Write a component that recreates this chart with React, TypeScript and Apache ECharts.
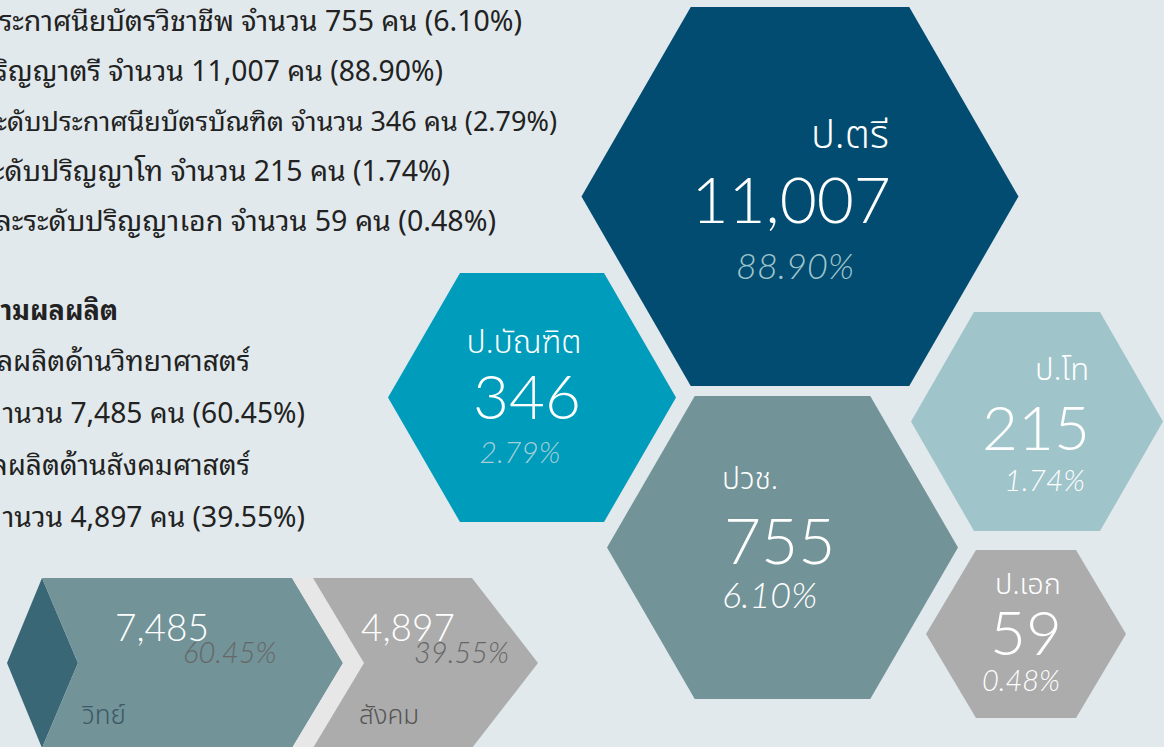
import React, { useEffect, useRef } from 'react';
import * as echarts from 'echarts';

// ---------- data ----------
const levels = ['ป.ตรี', 'ป.บัณฑิต', 'ปวช.', 'ป.โท', 'ป.เอก'];
const levelCounts = [11007, 346, 755, 215, 59];
const levelPercents = [88.9, 2.79, 6.1, 1.74, 0.48];
// order in which the left summary lists levels (indices into the arrays above)
const summaryOrder = [2, 0, 1, 3, 4];
const summaryPhrases = ['ระกาศนียบัตรวิชาชีพ', 'ริญญาตรี', 'ะดับประกาศนียบัตรบัณฑิต', 'ะดับปริญญาโท', 'ละระดับปริญญาเอก'];

const fields = ['วิทย์', 'สังคม'];
const fieldPhrases = ['ลผลิตด้านวิทยาศาสตร์', 'ลผลิตด้านสังคมศาสตร์'];
const fieldCounts = [7485, 4897];
const fieldPercents = [60.45, 39.55];
const outputHeading = 'ามผลผลิต';

// ---------- layout / style ----------
const W = 1164;
const H = 747;
const BG = '#e1e9ec';
const NUM_FONT = "Lato, 'Open Sans', sans-serif";
const TH_FONT = "'Noto Sans Thai', Loma, Garuda, Tahoma, sans-serif";
const TH_BODY_FONT = "'Noto Sans Thai Looped', Tahoma, Loma, 'Noto Sans Thai', sans-serif";

type HexLayout = {
  cx: number; cy: number; rx: number; ry: number; fill: string;
  labelX: number; labelY: number; labelAlign: string; labelSize: number;
  numX: number; numY: number; numAlign: string; numSize: number;
  pctX: number; pctY: number; pctAlign: string; pctSize: number; pctColor: string;
};

const hexLayout: HexLayout[] = [
  { cx: 800, cy: 196.5, rx: 218.5, ry: 189.5, fill: '#014c70',
    labelX: 889, labelY: 136, labelAlign: 'right', labelSize: 40,
    numX: 891, numY: 198.5, numAlign: 'right', numSize: 64,
    pctX: 795, pctY: 265, pctAlign: 'center', pctSize: 36, pctColor: '#9fc4ca' },
  { cx: 532, cy: 397.5, rx: 144, ry: 124.5, fill: '#009cbb',
    labelX: 524, labelY: 342.5, labelAlign: 'center', labelSize: 32,
    numX: 527, numY: 395, numAlign: 'center', numSize: 62,
    pctX: 520, pctY: 451, pctAlign: 'center', pctSize: 30, pctColor: '#a5d0d8' },
  { cx: 782.5, cy: 547.5, rx: 175.5, ry: 151.5, fill: '#729398',
    labelX: 722, labelY: 480, labelAlign: 'left', labelSize: 30,
    numX: 724, numY: 539, numAlign: 'left', numSize: 64,
    pctX: 722, pctY: 594, pctAlign: 'left', pctSize: 36, pctColor: '#ffffff' },
  { cx: 1037, cy: 421.5, rx: 126, ry: 109.5, fill: '#9fc4ca',
    labelX: 1089, labelY: 370, labelAlign: 'right', labelSize: 31,
    numX: 1090, numY: 425.5, numAlign: 'right', numSize: 62,
    pctX: 1085, pctY: 479, pctAlign: 'right', pctSize: 30, pctColor: '#ffffff' },
  { cx: 1026, cy: 634, rx: 100, ry: 84, fill: '#acacac',
    labelX: 1028, labelY: 585, labelAlign: 'center', labelSize: 29,
    numX: 1026, numY: 631, numAlign: 'center', numSize: 62,
    pctX: 1021, pctY: 679, pctAlign: 'center', pctSize: 29, pctColor: '#ffffff' },
];

// left summary text: right edge and font size of each line
const summaryRight = [522, 443, 557, 450, 496];
const summarySize = [28.5, 28.3, 27, 28.4, 28.6];

// chevrons: x0 = left edge, x1 = right top corner, tip = tip x, notch = left notch x
const chevTop = 578;
const chevMid = 663;
const chevBottom = 748;
const chevLayout = [
  { x0: 42, x1: 292, tip: 343, notch: 78, fill: '#729398',
    numX: 115, pctX: 183, nameX: 82, nameColor: '#3d5866' },
  { x0: 313, x1: 472, tip: 538, notch: 364, fill: '#acacac',
    numX: 361, pctX: 414, nameX: 359, nameColor: '#555555' },
];

const fmt = (n: number) => n.toLocaleString('en-US');
const fmtPct = (p: number) => p.toFixed(2) + '%';

export default function App() {
  const ref = useRef<HTMLDivElement>(null);

  useEffect(() => {
    document.body.style.margin = '0';
    document.body.style.background = BG;
    if (!ref.current) return;
    const chart = echarts.init(ref.current, null, { renderer: 'svg' });

    const hexData = levels.map((name, i) => ({ name, value: [levelCounts[i], levelPercents[i]] }));
    const chevData = fields.map((name, i) => ({ name, value: [fieldCounts[i], fieldPercents[i]] }));

    const summaryTexts: any[] = [];
    summaryOrder.forEach((li, k) => {
      summaryTexts.push({
        type: 'text',
        x: summaryRight[k],
        y: 18 + k * 50,
        style: {
          text: `${summaryPhrases[k]} จำนวน ${fmt(levelCounts[li])} คน (${fmtPct(levelPercents[li])})`,
          fill: '#222222',
          font: `${summarySize[k]}px ${TH_BODY_FONT}`,
          align: 'right',
          verticalAlign: 'middle',
        },
      });
    });
    summaryTexts.push({
      type: 'text', x: 118, y: 307,
      style: { text: outputHeading, fill: '#222222', font: `bold 27px ${TH_BODY_FONT}`, align: 'right', verticalAlign: 'middle' },
    });
    fields.forEach((_, i) => {
      summaryTexts.push({
        type: 'text', x: 250, y: 358 + i * 104,
        style: { text: fieldPhrases[i], fill: '#222222', font: `28.1px ${TH_BODY_FONT}`, align: 'right', verticalAlign: 'middle' },
      });
      summaryTexts.push({
        type: 'text', x: 305, y: 410 + i * 104,
        style: {
          text: `านวน ${fmt(fieldCounts[i])} คน (${fmtPct(fieldPercents[i])})`,
          fill: '#222222', font: `28.2px ${TH_BODY_FONT}`, align: 'right', verticalAlign: 'middle',
        },
      });
    });

    const option: any = {
      animation: false,
      backgroundColor: BG,
      grid: { left: 0, right: 0, top: 0, bottom: 0 },
      xAxis: { type: 'value', min: 0, max: W, show: false },
      yAxis: { type: 'value', min: 0, max: H, inverse: true, show: false },
      graphic: summaryTexts,
      series: [
        {
          type: 'custom',
          name: 'levels',
          clip: false,
          data: hexData,
          renderItem: (params: any, api: any) => {
            const i = params.dataIndex;
            const L = hexLayout[i];
            const c = (x: number, y: number) => api.coord([x, y]);
            const pts = [
              c(L.cx - L.rx, L.cy), c(L.cx - L.rx / 2, L.cy - L.ry), c(L.cx + L.rx / 2, L.cy - L.ry),
              c(L.cx + L.rx, L.cy), c(L.cx + L.rx / 2, L.cy + L.ry), c(L.cx - L.rx / 2, L.cy + L.ry),
            ];
            const lp = c(L.labelX, L.labelY);
            const np = c(L.numX, L.numY);
            const pp = c(L.pctX, L.pctY);
            return {
              type: 'group',
              children: [
                { type: 'polygon', shape: { points: pts }, style: { fill: L.fill } },
                { type: 'text', style: { text: levels[i], x: lp[0], y: lp[1], fill: '#ffffff',
                  font: `300 ${L.labelSize}px ${TH_FONT}`, align: L.labelAlign, verticalAlign: 'middle' } },
                { type: 'text', style: { text: fmt(api.value(0)), x: np[0], y: np[1], fill: '#ffffff',
                  font: `300 ${L.numSize}px ${NUM_FONT}`, align: L.numAlign, verticalAlign: 'middle' } },
                { type: 'text', style: { text: fmtPct(api.value(1)), x: pp[0], y: pp[1], fill: L.pctColor,
                  font: `italic 300 ${L.pctSize}px ${NUM_FONT}`, align: L.pctAlign, verticalAlign: 'middle' } },
              ],
            };
          },
        },
        {
          type: 'custom',
          name: 'fields',
          clip: false,
          data: chevData,
          renderItem: (params: any, api: any) => {
            const i = params.dataIndex;
            const L = chevLayout[i];
            const c = (x: number, y: number) => api.coord([x, y]);
            const children: any[] = [];
            if (i === 0) {
              children.push({ type: 'polygon', shape: { points: [
                c(L.x0, chevTop), c(L.notch, chevMid), c(L.x0, chevBottom), c(7, chevMid),
              ] }, style: { fill: '#3a6775' } });
            } else {
              const prev = chevLayout[i - 1];
              children.push({ type: 'polygon', shape: { points: [
                c(prev.x1, chevTop), c(L.x0, chevTop), c(L.notch, chevMid), c(L.x0, chevBottom),
                c(prev.x1, chevBottom), c(prev.tip, chevMid),
              ] }, style: { fill: '#e7e7e7' } });
            }
            children.push({ type: 'polygon', shape: { points: [
              c(L.x0, chevTop), c(L.x1, chevTop), c(L.tip, chevMid), c(L.x1, chevBottom),
              c(L.x0, chevBottom), c(L.notch, chevMid),
            ] }, style: { fill: L.fill } });
            const np = c(L.numX, 626.5);
            const pp = c(L.pctX, 651.5);
            const mp = c(L.nameX, 716);
            children.push({ type: 'text', style: { text: fmt(api.value(0)), x: np[0], y: np[1], fill: '#ffffff',
              font: `300 37px ${NUM_FONT}`, align: 'left', verticalAlign: 'middle' } });
            children.push({ type: 'text', style: { text: fmtPct(api.value(1)), x: pp[0], y: pp[1], fill: '#666666',
              font: `italic 300 29px ${NUM_FONT}`, align: 'left', verticalAlign: 'middle' } });
            children.push({ type: 'text', style: { text: fields[i], x: mp[0], y: mp[1], fill: L.nameColor,
              font: `300 26px ${TH_FONT}`, align: 'left', verticalAlign: 'middle' } });
            return { type: 'group', children };
          },
        },
      ],
    };
    chart.setOption(option);
    return () => chart.dispose();
  }, []);

  return <div ref={ref} style={{ width: W, height: H }} />;
}
